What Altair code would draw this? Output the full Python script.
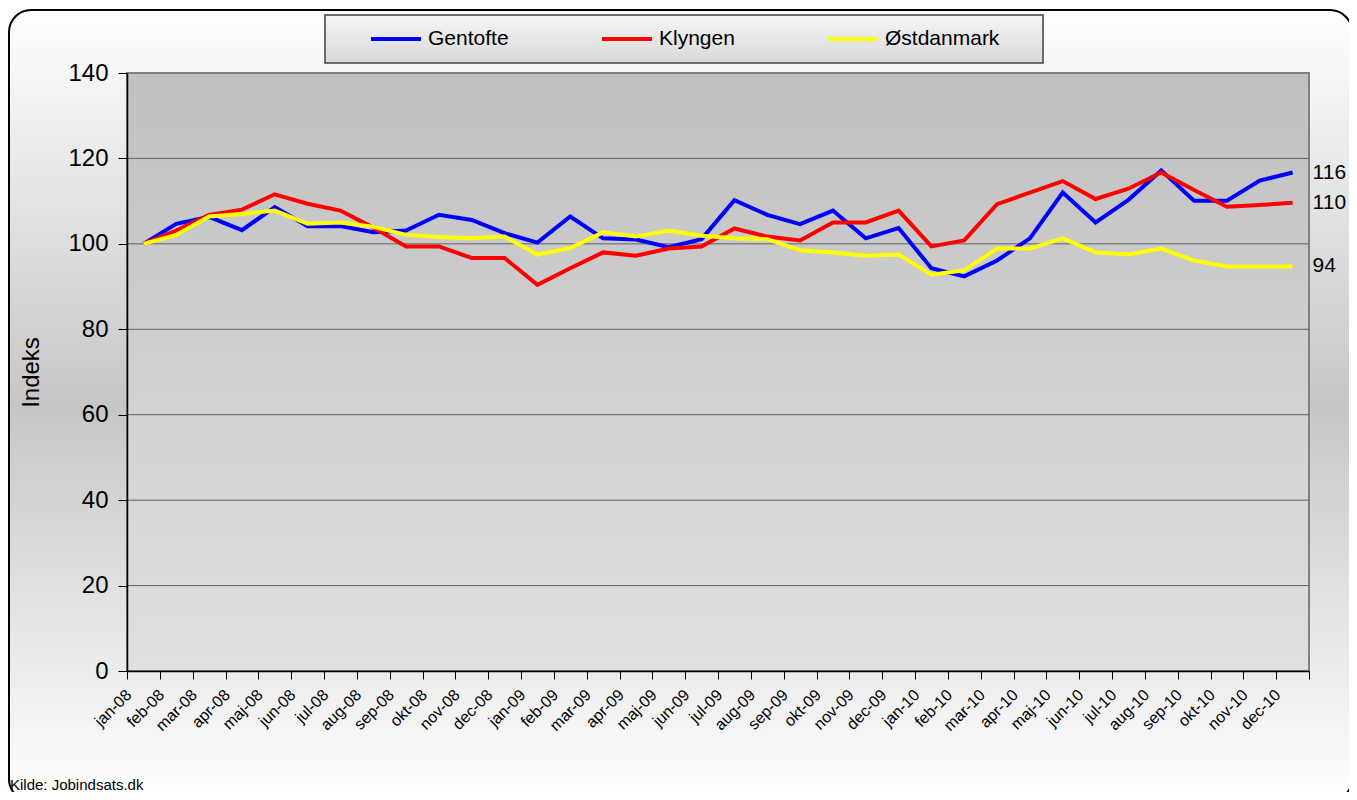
import altair as alt
import pandas as pd

months = ["jan-08", "feb-08", "mar-08", "apr-08", "maj-08", "jun-08", "jul-08", "aug-08",
          "sep-08", "okt-08", "nov-08", "dec-08", "jan-09", "feb-09", "mar-09", "apr-09",
          "maj-09", "jun-09", "jul-09", "aug-09", "sep-09", "okt-09", "nov-09", "dec-09",
          "jan-10", "feb-10", "mar-10", "apr-10", "maj-10", "jun-10", "jul-10", "aug-10",
          "sep-10", "okt-10", "nov-10", "dec-10"]
series_names = ["Gentofte", "Klyngen", "Østdanmark"]
series_colors = ["#0000FF", "#FF0000", "#FFFF00"]
gentofte = [100, 104.7, 106.3, 103.2, 108.6, 104.1, 104.2, 102.7, 103.1, 106.8, 105.6, 102.5,
            100.3, 106.4, 101.3, 101.0, 99.2, 101.1, 110.2, 106.8, 104.6, 107.8, 101.3, 103.7,
            94.3, 92.4, 96.1, 101.3, 112.0, 105.0, 110.3, 117.2, 110.1, 110.1, 114.8, 116.7]
klyngen = [100, 103.1, 106.8, 108.0, 111.6, 109.4, 107.8, 103.8, 99.4, 99.4, 96.7, 96.7,
           90.4, 94.3, 98.0, 97.2, 98.9, 99.4, 103.6, 101.7, 100.8, 105.0, 105.0, 107.8,
           99.4, 100.8, 109.3, 112.0, 114.7, 110.5, 112.9, 116.7, 112.6, 108.7, 109.1, 109.6]
ostdanmark = [100, 102.1, 106.4, 107.0, 107.8, 104.7, 105.0, 104.0, 102.1, 101.6, 101.3, 101.7,
              97.5, 99.0, 102.7, 101.7, 103.1, 101.9, 101.3, 101.1, 98.5, 98.0, 97.2, 97.5,
              92.8, 93.8, 98.9, 98.9, 101.3, 98.0, 97.5, 98.9, 96.1, 94.7, 94.7, 94.7]
end_labels = ["116", "110", "94"]
y_ticks = [0, 20, 40, 60, 80, 100, 120, 140]
grid_values = [20, 40, 60, 80, 100, 120]
y_title = "Indeks"
source_text = "Kilde: Jobindsats.dk"

rows = []
for name, vals in zip(series_names, [gentofte, klyngen, ostdanmark]):
    for m, v in zip(months, vals):
        rows.append({"maaned": m, "serie": name, "indeks": v})
df = pd.DataFrame(rows)

end_df = pd.DataFrame({
    "maaned": [months[-1]] * 3,
    "serie": series_names,
    "indeks": [gentofte[-1], klyngen[-1], ostdanmark[-1]],
    "label": end_labels,
})
grid_df = pd.DataFrame({"v": grid_values})
one = pd.DataFrame([{"a": 0}])

W, H = 1182, 598
FONT = "Liberation Sans"

x_scale = alt.Scale(type="band", domain=months, paddingInner=0, paddingOuter=0)
y_scale = alt.Scale(domain=[0, 140], nice=False, zero=True)

x_axis = alt.Axis(title=None, tickBand="extent", labelAngle=315, labelAlign="right",
                  labelBaseline="middle", labelOffset=-15, labelPadding=13,
                  labelFontSize=16, labelFont=FONT, labelColor="black", labelOverlap=False,
                  tickSize=8, tickColor="black", domainColor="black", domainWidth=1.5,
                  zindex=1)
y_axis = alt.Axis(values=y_ticks, grid=False, domainColor="black", domainWidth=1.5,
                  tickColor="black", tickSize=9, labelFontSize=24, labelFont=FONT,
                  labelColor="black", labelPadding=10, title=y_title, titleFontSize=24,
                  titleFont=FONT, titleFontWeight="normal", titleColor="black",
                  titleX=-96, titleY=H / 2, titleAngle=270, titleAlign="center",
                  titleBaseline="middle", zindex=1)

frame_grad = alt.Gradient(gradient="linear", x1=0, x2=0, y1=0, y2=1, stops=[
    alt.GradientStop(color="#ffffff", offset=0),
    alt.GradientStop(color="#c6c6c6", offset=0.5),
    alt.GradientStop(color="#ffffff", offset=1)])
plot_grad = alt.Gradient(gradient="linear", x1=0, x2=0, y1=0, y2=1, stops=[
    alt.GradientStop(color="#c0c0c0", offset=0),
    alt.GradientStop(color="#e0e0e0", offset=1)])
legend_grad = alt.Gradient(gradient="linear", x1=0, x2=0, y1=0, y2=1, stops=[
    alt.GradientStop(color="#f6f6f6", offset=0),
    alt.GradientStop(color="#d8d8d8", offset=1)])

frame = alt.Chart(one).mark_rect(cornerRadius=22, stroke="black", strokeWidth=2,
                                 fill=frame_grad).encode(
    x=alt.value(-118), x2=alt.value(1225), y=alt.value(-63), y2=alt.value(728))

legend_box = alt.Chart(one).mark_rect(stroke="#404040", strokeWidth=1.5,
                                      fill=legend_grad).encode(
    x=alt.value(198), x2=alt.value(916), y=alt.value(-58), y2=alt.value(-10))

plot_bg = alt.Chart(one).mark_rect(stroke="#808080", strokeWidth=2, fill=plot_grad).encode(
    x=alt.value(0), x2=alt.value(W), y=alt.value(0), y2=alt.value(H))

grid = alt.Chart(grid_df).mark_rule(color="#606060", strokeWidth=1).encode(
    y=alt.Y("v:Q", scale=y_scale, axis=y_axis), x=alt.value(0), x2=alt.value(W))

lines = alt.Chart(df).mark_line(strokeWidth=4).encode(
    x=alt.X("maaned:N", sort=months, scale=x_scale, axis=x_axis),
    y=alt.Y("indeks:Q", scale=y_scale, axis=y_axis),
    color=alt.Color("serie:N", sort=series_names,
                    scale=alt.Scale(domain=series_names, range=series_colors),
                    legend=alt.Legend(orient="none", legendX=242, legendY=-61,
                                      direction="horizontal", title=None,
                                      symbolType="stroke", symbolSize=2500,
                                      symbolStrokeWidth=4, labelFontSize=21,
                                      labelFont=FONT, labelColor="black",
                                      columnPadding=85, labelOffset=5, padding=0,
                                      zindex=1)),
)

ends = alt.Chart(end_df).mark_text(align="left", baseline="middle", dx=20, fontSize=21,
                                   font=FONT, color="black").encode(
    x=alt.X("maaned:N", sort=months, scale=x_scale, axis=x_axis),
    y=alt.Y("indeks:Q", scale=y_scale, axis=y_axis),
    text="label:N")

source = alt.Chart(one).mark_text(align="left", baseline="bottom", fontSize=15, font=FONT,
                                  color="black").encode(
    x=alt.value(-117), y=alt.value(720), text=alt.value(source_text))

chart = alt.layer(frame, legend_box, plot_bg, grid, lines, ends, source).properties(
    width=W, height=H,
    padding={"left": 119, "top": 65, "right": 40, "bottom": 121},
    autosize=alt.AutoSizeParams(type="none"),
).configure_view(stroke=None).configure(background="white", font=FONT)

chart.save("out.html", embed_options={"renderer": "svg", "actions": False})
